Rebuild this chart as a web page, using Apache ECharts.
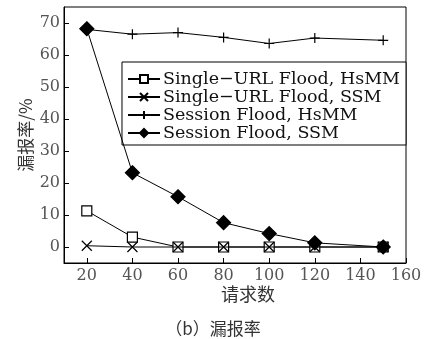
<!DOCTYPE html>
<html>
<head>
<meta charset="utf-8">
<script src="https://cdn.jsdelivr.net/npm/echarts@6/dist/echarts.min.js"></script>
<style>
  html, body {margin: 0; padding: 0; background: #fff;}
  #chart {width: 426px; height: 339px;}
</style>
</head>
<body>
<div id="chart"></div>
<script>
const requests = [20, 40, 60, 80, 100, 120, 150];
const xTicks = [20, 40, 60, 80, 100, 120, 140, 160];
const yTicks = [0, 10, 20, 30, 40, 50, 60, 70];

const urlHsmm = [11.3, 3.1, 0, 0, 0, 0, 0];
const urlSsm = [0.4, 0, 0, 0, 0, 0, 0];
const sessionHsmm = [68.0, 66.5, 67.0, 65.5, 63.6, 65.3, 64.6];
const sessionSsm = [68.2, 23.2, 15.7, 7.6, 4.2, 1.3, 0];

const names = [
  "Single\u2212URL Flood, HsMM",
  "Single\u2212URL Flood, SSM",
  "Session Flood, HsMM",
  "Session Flood, SSM",
];

const SERIF = "DejaVu Serif";
const CJK = "Noto Sans CJK SC";

const pairs = (vals) => requests.map((x, i) => [x, vals[i]]);

const CROSS = "path://M0,0L10,10M10,0L0,10";
const PLUS = "path://M5,0L5,10M0,5L10,5";

function lineSeries(name, vals, symbol, size, fill, z) {
  return {
    name,
    type: "line",
    data: pairs(vals),
    symbol,
    symbolSize: size,
    showAllSymbol: true,
    z,
    lineStyle: {color: "#000", width: 1},
    itemStyle: {color: fill, borderColor: "#000", borderWidth: 1.2},
    emphasis: {disabled: true},
  };
}

const chart = echarts.init(document.getElementById("chart"));
chart.setOption({
  animation: false,
  textStyle: {fontFamily: SERIF},
  grid: {left: 64, right: 20, top: 7, bottom: 76, show: true, borderColor: "#000", borderWidth: 1},
  title: {
    text: "（b）漏报率",
    left: "center",
    top: 315,
    textStyle: {fontFamily: CJK, fontSize: 17, fontWeight: "normal", color: "#333"},
  },
  legend: {
    data: names,
    orient: "vertical",
    right: 20,
    top: 62,
    itemWidth: 32,
    itemHeight: 10,
    itemGap: 0,
    padding: [8, 6, 3, 5],
    borderColor: "#000",
    borderWidth: 1,
    backgroundColor: "#fff",
    textStyle: {fontFamily: SERIF, fontSize: 17.5, lineHeight: 18, color: "#111", padding: [0, 0, 0, -2]},
  },
  xAxis: {
    type: "value",
    min: 10,
    max: 160,
    name: "请求数",
    nameLocation: "middle",
    nameGap: 22,
    nameMoveOverlap: false,
    nameTextStyle: {fontFamily: CJK, fontSize: 18, color: "#333", padding: [0, 0, 0, 26]},
    axisLine: {onZero: false, lineStyle: {color: "#000", width: 1}},
    axisTick: {inside: true, length: 5, customValues: xTicks, lineStyle: {color: "#000"}},
    axisLabel: {customValues: xTicks, fontFamily: SERIF, fontSize: 16, color: "#555", margin: 5},
    splitLine: {show: false},
  },
  yAxis: {
    type: "value",
    min: -5,
    max: 75,
    name: "漏报率/%",
    nameLocation: "middle",
    nameRotate: 90,
    nameGap: 30,
    nameMoveOverlap: false,
    nameTextStyle: {fontFamily: CJK, fontSize: 17, color: "#333"},
    axisLine: {show: true, onZero: false, lineStyle: {color: "#000", width: 1}},
    axisTick: {show: true, inside: true, length: 5, customValues: yTicks, lineStyle: {color: "#000"}},
    axisLabel: {customValues: yTicks, fontFamily: SERIF, fontSize: 16, color: "#555", margin: 4},
    splitLine: {show: false},
  },
  series: [
    lineSeries(names[0], urlHsmm, "rect", 10, "#fff", 2),
    lineSeries(names[1], urlSsm, CROSS, 10, "none", 3),
    lineSeries(names[2], sessionHsmm, PLUS, 10, "none", 2),
    lineSeries(names[3], sessionSsm, "diamond", 14, "#000", 4),
  ],
});
</script>
</body>
</html>
